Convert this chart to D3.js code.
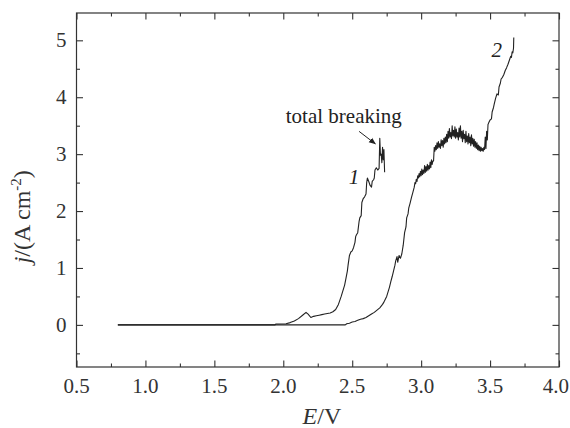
<!DOCTYPE html>
<html lang="en">
<head>
<meta charset="UTF-8">
<title>j vs E</title>
<script src="https://d3js.org/d3.v7.min.js"></script>
<style>
  body { margin: 0; background: #fff; }
  svg { font-family: "Liberation Serif", "Times New Roman", serif; }
  .frame { fill: none; stroke: #333; stroke-width: 1.2; }
  .tick-label { font-size: 21px; fill: #333; }
  .axis-title { font-size: 24px; fill: #333; }
  .note { font-size: 21px; fill: #222; }
  .curve { fill: none; stroke: #222; stroke-width: 1.1; stroke-linejoin: round; }
</style>
</head>
<body>
<svg id="chart"></svg>
<script>
// axis ticks
const xTicks = [0.5, 1.0, 1.5, 2.0, 2.5, 3.0, 3.5, 4.0];
const yTicks = [0, 1, 2, 3, 4, 5];

// curve 1: E (V), j (A cm^-2)
const curve1E = [0.80, 1.94, 1.945, 2.02, 2.05, 2.08, 2.11, 2.14, 2.165, 2.18, 2.20, 2.22, 2.24, 2.26, 2.28, 2.30,
  2.32, 2.34, 2.36, 2.38, 2.40, 2.42, 2.43, 2.445, 2.455, 2.465, 2.47, 2.48, 2.49, 2.50, 2.51, 2.52, 2.525,
  2.53, 2.54, 2.55, 2.555, 2.565, 2.57, 2.58, 2.59, 2.60, 2.605, 2.61, 2.62, 2.63, 2.64, 2.645, 2.655, 2.66,
  2.665, 2.675, 2.685, 2.695, 2.70, 2.705, 2.71, 2.715, 2.72, 2.725, 2.73, 2.735];
const curve1J = [0, 0, 0.015, 0.02, 0.04, 0.07, 0.11, 0.17, 0.22, 0.19, 0.13, 0.15, 0.16, 0.17, 0.18, 0.19,
  0.20, 0.21, 0.23, 0.27, 0.36, 0.50, 0.58, 0.70, 0.82, 0.95, 1.05, 1.22, 1.28, 1.30, 1.36, 1.45, 1.55,
  1.58, 1.62, 1.82, 1.88, 1.92, 2.15, 2.22, 2.25, 2.30, 2.50, 2.58, 2.52, 2.45, 2.42, 2.52, 2.55, 2.58,
  2.72, 2.76, 2.72, 2.75, 3.28, 2.98, 3.00, 2.85, 3.12, 2.90, 3.08, 2.68];

// curve 2
const curve2E = [0.80, 2.45, 2.46, 2.48, 2.50, 2.52, 2.54, 2.56, 2.58, 2.60, 2.62, 2.64, 2.66, 2.68, 2.70, 2.71,
  2.72, 2.73, 2.74, 2.75, 2.76, 2.77, 2.78, 2.79, 2.80, 2.81, 2.815, 2.825, 2.83, 2.84, 2.85, 2.86, 2.87,
  2.88, 2.89, 2.895, 2.905, 2.91, 2.92, 2.93, 2.94,
  2.95, 2.955, 2.96, 2.965, 2.97, 2.975, 2.98, 2.985, 2.99, 2.995, 3.00, 3.005, 3.01, 3.015, 3.02, 3.025,
  3.03, 3.035, 3.04, 3.045, 3.05, 3.055, 3.06, 3.065, 3.07, 3.075, 3.08, 3.085,
  3.09, 3.095, 3.10, 3.105, 3.11, 3.115, 3.12, 3.125, 3.13, 3.135, 3.14, 3.145, 3.15, 3.155, 3.16, 3.165,
  3.17, 3.175, 3.18, 3.185, 3.19, 3.195, 3.20, 3.205, 3.21, 3.215, 3.22, 3.225, 3.23, 3.235, 3.24, 3.245,
  3.25, 3.255, 3.26, 3.265, 3.27, 3.275, 3.28, 3.285, 3.29, 3.295, 3.30, 3.305, 3.31, 3.315, 3.32, 3.325,
  3.33, 3.335, 3.34, 3.345, 3.35, 3.355, 3.36, 3.365, 3.37, 3.375, 3.38, 3.385, 3.39, 3.395, 3.40, 3.405,
  3.41, 3.415, 3.42, 3.425, 3.43, 3.435, 3.44, 3.445, 3.45, 3.455, 3.46, 3.465, 3.47, 3.475, 3.48, 3.485,
  3.49, 3.50, 3.51, 3.515, 3.525, 3.53, 3.54, 3.55, 3.56, 3.565, 3.575, 3.58, 3.59, 3.60, 3.61, 3.62,
  3.63, 3.64, 3.65, 3.655, 3.66, 3.665, 3.67, 3.672];
const curve2J = [0, 0, 0.02, 0.03, 0.05, 0.06, 0.08, 0.10, 0.11, 0.13, 0.16, 0.19, 0.22, 0.26, 0.30, 0.33,
  0.36, 0.40, 0.45, 0.50, 0.58, 0.66, 0.76, 0.85, 0.95, 1.05, 1.12, 1.20, 1.10, 1.22, 1.17, 1.25, 1.40,
  1.62, 1.72, 1.88, 1.95, 2.05, 2.14, 2.24, 2.33,
  2.42, 2.50, 2.48, 2.56, 2.52, 2.62, 2.58, 2.66, 2.60, 2.70, 2.62, 2.74, 2.64, 2.72, 2.66, 2.80,
  2.68, 2.78, 2.70, 2.82, 2.72, 2.80, 2.74, 2.86, 2.76, 2.90, 2.82, 2.88,
  2.88, 3.12, 3.05, 3.15, 3.08, 3.20, 3.10, 3.22, 3.12, 3.18, 3.10, 3.25, 3.15, 3.24, 3.12, 3.28,
  3.18, 3.30, 3.20, 3.35, 3.22, 3.40, 3.28, 3.45, 3.30, 3.38, 3.27, 3.50, 3.32, 3.42, 3.30, 3.48,
  3.28, 3.44, 3.30, 3.38, 3.25, 3.46, 3.30, 3.50, 3.28, 3.40, 3.22, 3.42, 3.27, 3.35, 3.20, 3.40,
  3.22, 3.32, 3.18, 3.36, 3.20, 3.30, 3.15, 3.34, 3.18, 3.28, 3.14, 3.26, 3.12, 3.22, 3.10, 3.20,
  3.08, 3.16, 3.06, 3.14, 3.05, 3.12, 3.06, 3.10, 3.05, 3.12, 3.08, 3.30, 3.10, 3.40, 3.25, 3.52,
  3.55, 3.60, 3.62, 3.74, 3.82, 3.88, 3.98, 4.06, 4.04, 4.18, 4.25, 4.32, 4.35, 4.40, 4.47, 4.52,
  4.58, 4.65, 4.72, 4.70, 4.80, 4.78, 4.86, 5.05];

const W = 570, H = 428;
const margin = { top: 13, right: 11, bottom: 61, left: 76.5 };
const width = W - margin.left - margin.right;
const height = H - margin.top - margin.bottom;

const svg = d3.select("#chart").attr("width", W).attr("height", H);
const g = svg.append("g").attr("transform", `translate(${margin.left},${margin.top})`);

const x = d3.scaleLinear().domain([0.5, 4.0]).range([0, width]);
const y = d3.scaleLinear().domain([-0.74, 5.48]).range([height, 0]);

// inward ticks on all four sides
const xMinor = d3.range(0.75, 4.0, 0.5);
const yMinor = [-0.5, 0.5, 1.5, 2.5, 3.5, 4.5];

function drawTicks(axisFn, scale, values, size, transform) {
  g.append("g")
    .attr("transform", transform)
    .call(axisFn(scale).tickValues(values).tickSize(size).tickFormat(""))
    .call(a => a.select(".domain").remove())
    .call(a => a.selectAll("line").attr("stroke", "#333").attr("stroke-width", 1.1));
}
drawTicks(d3.axisTop, x, xTicks, 6.5, `translate(0,${height})`);
drawTicks(d3.axisTop, x, xMinor, 3.5, `translate(0,${height})`);
drawTicks(d3.axisBottom, x, xTicks, 6.5, "translate(0,0)");
drawTicks(d3.axisBottom, x, xMinor, 3.5, "translate(0,0)");
drawTicks(d3.axisRight, y, yTicks, 6.5, "translate(0,0)");
drawTicks(d3.axisRight, y, yMinor, 3.5, "translate(0,0)");
drawTicks(d3.axisLeft, y, yTicks, 6.5, `translate(${width},0)`);
drawTicks(d3.axisLeft, y, yMinor, 3.5, `translate(${width},0)`);

g.append("rect").attr("class", "frame")
  .attr("x", 0).attr("y", 0).attr("width", width).attr("height", height);

// tick labels (last one pulled in so it stays on the page)
g.selectAll(".xlab").data(xTicks).enter().append("text")
  .attr("class", "tick-label")
  .attr("x", (d, i) => i === xTicks.length - 1 ? width + 10 : x(d))
  .attr("y", height + 26)
  .attr("text-anchor", (d, i) => i === xTicks.length - 1 ? "end" : "middle")
  .text(d => d.toFixed(1));

g.selectAll(".ylab").data(yTicks).enter().append("text")
  .attr("class", "tick-label")
  .attr("x", -10).attr("y", d => y(d) + 7)
  .attr("text-anchor", "end")
  .text(d => d);

// axis titles
const xt = g.append("text").attr("class", "axis-title")
  .attr("x", x(2.28)).attr("y", height + 57).attr("text-anchor", "middle");
xt.append("tspan").attr("font-style", "italic").text("E");
xt.append("tspan").text("/V");

const yt = svg.append("text").attr("class", "axis-title")
  .attr("transform", `translate(30,${margin.top + y(1.9)}) rotate(-90)`)
  .attr("text-anchor", "middle");
yt.append("tspan").attr("font-style", "italic").text("j");
yt.append("tspan").text("/(A cm");
yt.append("tspan").attr("font-size", "15px").attr("dy", -9).text("-2");
yt.append("tspan").attr("dy", 9).text(")");

// curves
const line = d3.line().x(d => x(d[0])).y(d => y(d[1]));
g.append("path").attr("class", "curve").attr("stroke", "#444")
  .attr("d", line(d3.zip(curve2E, curve2J)));
g.append("path").attr("class", "curve")
  .attr("d", line(d3.zip(curve1E, curve1J)));

// labels
g.append("text").attr("class", "note").attr("font-style", "italic").attr("font-size", "18px")
  .attr("x", x(2.475)).attr("y", y(2.48)).text("1");
g.append("text").attr("class", "note").attr("font-style", "italic").attr("font-size", "20px")
  .attr("x", x(3.51)).attr("y", y(4.70)).text("2");
g.append("text").attr("class", "note")
  .attr("x", x(2.86)).attr("y", y(3.55)).attr("text-anchor", "end").text("total breaking");

svg.append("defs").append("marker")
  .attr("id", "arrow").attr("viewBox", "0 0 10 10")
  .attr("refX", 9).attr("refY", 5)
  .attr("markerWidth", 7).attr("markerHeight", 7)
  .attr("orient", "auto")
  .append("path").attr("d", "M0,1 L10,5 L0,9 Z").attr("fill", "#222");
g.append("line")
  .attr("x1", x(2.55)).attr("y1", y(3.40))
  .attr("x2", x(2.668)).attr("y2", y(3.18))
  .attr("stroke", "#222").attr("stroke-width", 1)
  .attr("marker-end", "url(#arrow)");
</script>
</body>
</html>
